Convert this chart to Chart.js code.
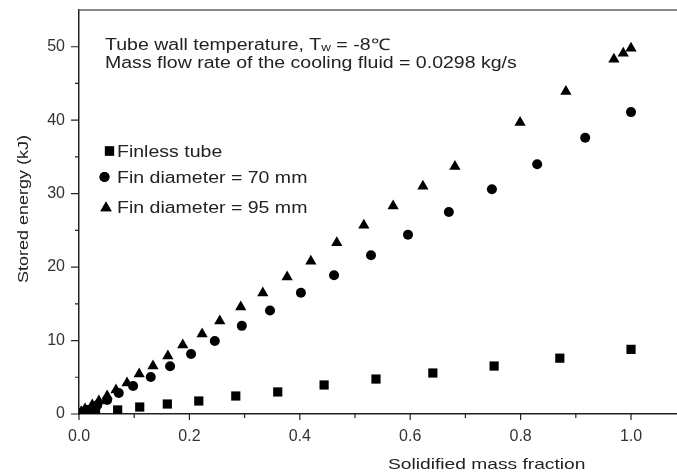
<!DOCTYPE html>
<html>
<head>
<meta charset="utf-8">
<script src="https://cdn.jsdelivr.net/npm/chart.js@4.4.1/dist/chart.umd.min.js"></script>
<style>
html, body { margin: 0; padding: 0; background: #ffffff; }
#wrap { width: 677px; height: 473px; }
</style>
</head>
<body>
<div id="wrap"><canvas id="energyChart" width="677" height="473"></canvas></div>
<script>
// ===============================
// DATA
// ===============================
const finlessX = [0.030, 0.070, 0.110, 0.160, 0.217, 0.284, 0.360, 0.444, 0.538, 0.641, 0.752, 0.871, 1.000];
const finlessY = [0.35, 0.55, 0.95, 1.36, 1.77, 2.45, 3.00, 3.95, 4.76, 5.58, 6.53, 7.60, 8.80];

const fin70X = [0.005, 0.016, 0.033, 0.051, 0.072, 0.098, 0.130, 0.165, 0.203, 0.246, 0.295,
                0.346, 0.402, 0.462, 0.529, 0.596, 0.670, 0.748, 0.830, 0.917, 1.000];
const fin70Y = [0.2, 0.54, 1.2, 1.9, 2.86, 3.8, 5.03, 6.5, 8.16, 9.93, 12.0,
                14.1, 16.5, 18.9, 21.6, 24.4, 27.5, 30.6, 34.0, 37.6, 41.1];

const fin95X = [0.004, 0.011, 0.024, 0.036, 0.051, 0.067, 0.087, 0.109, 0.134, 0.161, 0.188,
                0.223, 0.255, 0.293, 0.333, 0.377, 0.420, 0.467, 0.516, 0.569, 0.623, 0.681,
                0.799, 0.882, 0.969, 0.986, 1.000];
const fin95Y = [0.3, 0.68, 1.22, 1.77, 2.45, 3.27, 4.22, 5.44, 6.53, 7.9, 9.4,
                10.9, 12.65, 14.56, 16.46, 18.64, 20.8, 23.3, 25.7, 28.3, 31.0, 33.7,
                39.7, 43.9, 48.3, 49.1, 49.8];

const seriesNames = ["Finless tube", "Fin diameter = 70 mm", "Fin diameter = 95 mm"];
const xMinorTicks = [0, 0.1, 0.2, 0.3, 0.4, 0.5, 0.6, 0.7, 0.8, 0.9, 1.0];
const yMinorTicks = [0, 5, 10, 15, 20, 25, 30, 35, 40, 45, 50];

// ===============================
// STYLE
// ===============================
const FONT = "'Liberation Sans', Arial, sans-serif";
const TEXT_COLOR = "#222222";
const STRETCH = 1.22;   // the figure text is a bit wide

function toPoints(xs, ys) {
    return xs.map((x, i) => ({ x: x, y: ys[i] }));
}

// draws text horizontally stretched, returns the drawn width
function wideText(ctx, text, x, y, size, stretch) {
    const k = stretch || STRETCH;
    ctx.save();
    ctx.font = size + "px " + FONT;
    ctx.translate(x, y);
    ctx.scale(k, 1);
    ctx.fillText(text, 0, 0);
    const w = ctx.measureText(text).width * k;
    ctx.restore();
    return w;
}

function drawMarker(ctx, style, radius, x, y) {
    if (Chart.helpers && Chart.helpers.drawPoint) {
        Chart.helpers.drawPoint(ctx, { pointStyle: style, radius: radius, rotation: 0, borderWidth: 0 }, x, y);
        ctx.fill();
    }
}

function pinScale(scale, size) {
    if (scale.isHorizontal()) scale.height = size;
    else scale.width = size;
    scale.paddingTop = 0;
    scale.paddingBottom = 0;
    scale.paddingLeft = 0;
    scale.paddingRight = 0;
}

// ===============================
// DECORATION PLUGIN
// ===============================
const figureDecor = {
    id: "figureDecor",
    afterDraw(chart) {
        const ctx = chart.ctx;
        const area = chart.chartArea;
        const xs = chart.scales.x;
        const ys = chart.scales.y;

        ctx.save();

        // top frame line
        ctx.strokeStyle = "#666666";
        ctx.lineWidth = 1.5;
        ctx.beginPath();
        ctx.moveTo(area.left, area.top);
        ctx.lineTo(area.right, area.top);
        ctx.stroke();

        // tick marks, outward
        ctx.strokeStyle = "#222222";
        ctx.lineWidth = 1.2;
        ctx.beginPath();
        xMinorTicks.forEach((v, i) => {
            const px = xs.getPixelForValue(v);
            const len = i % 2 === 0 ? 6 : 4;
            ctx.moveTo(px, area.bottom);
            ctx.lineTo(px, area.bottom + len);
        });
        yMinorTicks.forEach((v, i) => {
            const py = ys.getPixelForValue(v);
            const len = i % 2 === 0 ? 8 : 4;
            ctx.moveTo(area.left, py);
            ctx.lineTo(area.left - len, py);
        });
        ctx.stroke();

        ctx.fillStyle = TEXT_COLOR;
        ctx.textBaseline = "alphabetic";
        ctx.textAlign = "left";

        // annotation
        let cx = 105;
        cx += wideText(ctx, "Tube wall temperature, T", cx, 49.5, 16);
        cx += wideText(ctx, "w", cx, 50.5, 11);
        wideText(ctx, " = -8\u2103", cx, 49.5, 16);
        wideText(ctx, "Mass flow rate of the cooling fluid = 0.0298 kg/s", 105, 67.5, 16);

        // legend
        const rows = [151, 177, 207];
        const styles = [["rect", 6.5, 109.5], ["circle", 5, 104.5], ["triangle", 6.5, 106]];
        rows.forEach((ry, i) => {
            ctx.fillStyle = "#000000";
            drawMarker(ctx, styles[i][0], styles[i][1], styles[i][2], ry + (i === 2 ? 1 : 0));
            ctx.fillStyle = TEXT_COLOR;
            wideText(ctx, seriesNames[i], 117, ry + 6, 16);
        });

        // axis titles
        wideText(ctx, "Solidified mass fraction", 388, 469, 15, 1.28);

        ctx.save();
        ctx.translate(28, 283);
        ctx.rotate(-Math.PI / 2);
        ctx.font = "15px " + FONT;
        ctx.scale(1.2, 1);
        ctx.fillText("Stored energy (kJ)", 0, 0);
        ctx.restore();

        ctx.restore();
    }
};

// ===============================
// CHART
// ===============================
new Chart(document.getElementById("energyChart"), {
    type: "scatter",
    data: {
        datasets: [
            {
                label: seriesNames[0],
                data: toPoints(finlessX, finlessY),
                pointStyle: "rect",
                pointRadius: 6.5,
                backgroundColor: "#000000",
                borderWidth: 0
            },
            {
                label: seriesNames[1],
                data: toPoints(fin70X, fin70Y),
                pointStyle: "circle",
                pointRadius: 5,
                backgroundColor: "#000000",
                borderWidth: 0
            },
            {
                label: seriesNames[2],
                data: toPoints(fin95X, fin95Y),
                pointStyle: "triangle",
                pointRadius: 6.5,
                backgroundColor: "#000000",
                borderWidth: 0
            }
        ]
    },
    options: {
        responsive: false,
        animation: false,
        layout: { autoPadding: false, padding: { top: 10, right: 0, bottom: 0, left: 0 } },
        plugins: {
            legend: { display: false },
            tooltip: { enabled: false }
        },
        scales: {
            x: {
                type: "linear",
                min: 0,
                max: 1.0833,
                afterFit: (scale) => pinScale(scale, 59),
                grid: { drawOnChartArea: false, drawTicks: false },
                border: { color: "#222222", width: 1.5 },
                ticks: {
                    stepSize: 0.2,
                    includeBounds: false,
                    padding: 13,
                    color: "#333333",
                    font: { family: FONT, size: 16 },
                    maxRotation: 0,
                    callback: (v) => Number(v).toFixed(1)
                }
            },
            y: {
                min: 0,
                max: 55,
                afterFit: (scale) => pinScale(scale, 79),
                grid: { drawOnChartArea: false, drawTicks: false },
                border: { color: "#222222", width: 1.5 },
                ticks: {
                    stepSize: 10,
                    includeBounds: false,
                    padding: 14,
                    color: "#333333",
                    font: { family: FONT, size: 16 }
                }
            }
        }
    },
    plugins: [figureDecor]
});
</script>
</body>
</html>
